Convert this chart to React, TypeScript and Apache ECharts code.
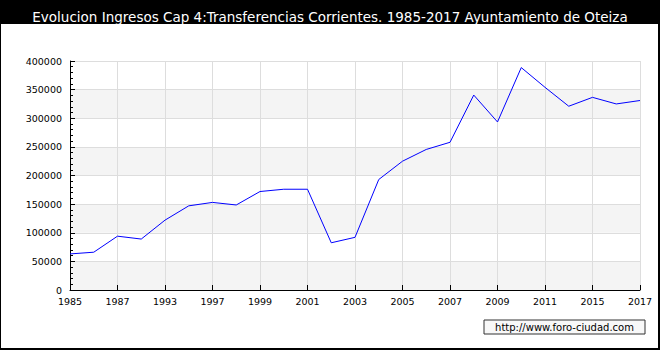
import React, { useEffect, useRef } from "react";
import * as echarts from "echarts";

const TITLE = "Evolucion Ingresos Cap 4:Transferencias Corrientes. 1985-2017 Ayuntamiento de Oteiza";
const WATERMARK = "http://www.foro-ciudad.com";

const years = [
  "1985", "1986", "1987", "1988", "1993", "1995", "1997", "1998", "1999", "2000",
  "2001", "2002", "2003", "2004", "2005", "2006", "2007", "2008", "2009", "2010",
  "2011", "2013", "2015", "2016", "2017",
];

const values = [
  63000, 66000, 94000, 89000, 122000, 147000, 153000, 148500, 172000, 176000,
  176000, 82500, 92000, 193000, 225000, 245500, 258000, 340500, 293500, 388500,
  354000, 321000, 336500, 325000, 331000,
];

const yTicks = { min: 0, max: 400000, interval: 50000 };

export default function App() {
  const ref = useRef<HTMLDivElement>(null);
  useEffect(() => {
    document.body.style.margin = "0";
    const chart = echarts.init(ref.current!, null, { renderer: "svg" });
    const font = "DejaVu Sans, Verdana, sans-serif";
    chart.setOption({
      animation: false,
      backgroundColor: "#000000",
      title: {
        text: TITLE,
        left: "center",
        top: 5,
        textStyle: { color: "#ffffff", fontSize: 13.5, fontWeight: "normal", fontFamily: font },
      },
      graphic: [
        {
          type: "rect",
          z: -10,
          silent: true,
          shape: { x: 1, y: 24, width: 657, height: 324 },
          style: { fill: "#ffffff" },
        },
        {
          type: "group",
          z: 100,
          children: [
            {
              type: "rect",
              shape: { x: 484, y: 320, width: 161, height: 14 },
              style: { fill: "#f8f8f8", stroke: "#333333", lineWidth: 1 },
            },
            {
              type: "text",
              x: 564.5,
              y: 327.5,
              style: {
                text: WATERMARK,
                fill: "#000000",
                fontSize: 10,
                fontFamily: font,
                align: "center",
                verticalAlign: "middle",
              },
            },
          ],
        },
      ],
      grid: { left: 70, right: 20, top: 61, bottom: 60, containLabel: false },
      xAxis: {
        type: "category",
        data: years,
        boundaryGap: false,
        axisLine: { show: true, lineStyle: { color: "#000000", width: 1 } },
        axisTick: { show: true, inside: true, length: 5, interval: 1, lineStyle: { color: "#000000" } },
        axisLabel: { interval: 1, color: "#000000", fontSize: 9.5, fontFamily: font, margin: 6 },
        splitLine: { show: true, interval: 1, lineStyle: { color: "#dddddd", width: 1 } },
      },
      yAxis: {
        type: "value",
        min: yTicks.min,
        max: yTicks.max,
        interval: yTicks.interval,
        axisLine: { show: true, lineStyle: { color: "#000000", width: 1 } },
        axisTick: { show: true, inside: true, length: 5, lineStyle: { color: "#000000" } },
        minorTick: { show: true, splitNumber: 5, length: 3, lineStyle: { color: "#000000", width: 1 } },
        axisLabel: {
          color: "#000000",
          fontSize: 9.5,
          fontFamily: font,
          margin: 8,
          formatter: (v: number) => String(v),
        },
        splitLine: { show: true, lineStyle: { color: "#dddddd", width: 1 } },
        splitArea: { show: true, areaStyle: { color: ["#f4f4f4", "#ffffff"] } },
      },
      series: [
        {
          type: "line",
          data: values,
          showSymbol: false,
          symbol: "none",
          lineStyle: { color: "#0000ff", width: 1 },
        },
      ],
    });
    return () => chart.dispose();
  }, []);
  return (
    <div
      ref={ref}
      style={{ position: "fixed", left: 0, top: 0, width: 660, height: 350 }}
    />
  );
}
